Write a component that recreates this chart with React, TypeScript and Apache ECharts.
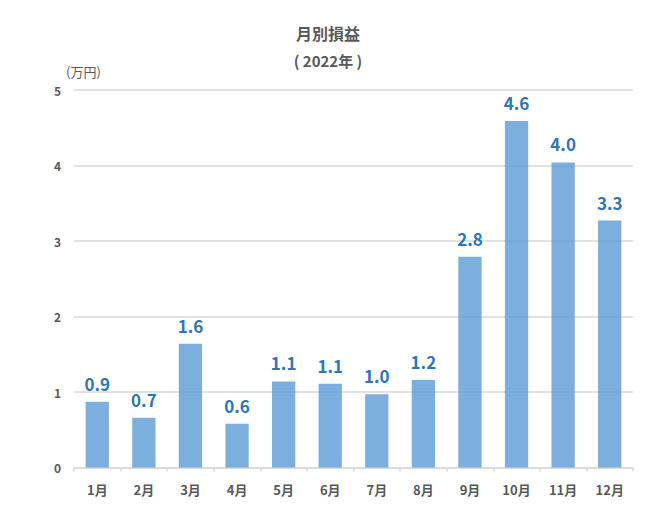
import React, { useEffect, useRef } from "react";
import * as echarts from "echarts";

const categories = ["1月", "2月", "3月", "4月", "5月", "6月", "7月", "8月", "9月", "10月", "11月", "12月"];
const profit = [0.87, 0.66, 1.64, 0.58, 1.14, 1.11, 0.97, 1.16, 2.79, 4.59, 4.04, 3.27];
const yTicks = [0, 1, 2, 3, 4, 5];
const titleText = "月別損益";
const subtitleText = "( 2022年 )";
const unitText = "(万円)";

const FONT = "'Noto Sans CJK JP', 'Noto Sans', sans-serif";

export default function App() {
  const ref = useRef<HTMLDivElement>(null);
  useEffect(() => {
    if (!ref.current) return;
    const chart = echarts.init(ref.current, undefined, { renderer: "svg" });
    chart.setOption({
      animation: false,
      backgroundColor: "#ffffff",
      textStyle: { fontFamily: FONT },
      title: [
        {
          text: titleText,
          left: "center",
          top: 20,
          textStyle: { fontSize: 16, fontWeight: "bold", color: "#595959", fontFamily: FONT },
        },
        {
          text: subtitleText,
          left: "center",
          top: 48,
          textStyle: { fontSize: 15, fontWeight: "bold", color: "#595959", fontFamily: FONT },
        },
      ],
      graphic: [
        {
          type: "text",
          left: 66,
          top: 65,
          style: { text: unitText, fontSize: 13, fill: "#595959", fontFamily: FONT },
        },
      ],
      grid: { left: 74, right: 23, top: 90, bottom: 58.5, containLabel: false },
      xAxis: {
        type: "category",
        data: categories,
        axisLine: { lineStyle: { color: "#D9D9D9", width: 1.5 } },
        axisTick: { show: true, length: 4, lineStyle: { color: "#D9D9D9", width: 1.5 } },
        axisLabel: { color: "#595959", fontSize: 13, fontWeight: "bold", margin: 15, fontFamily: FONT },
      },
      yAxis: {
        type: "value",
        min: yTicks[0],
        max: yTicks[yTicks.length - 1],
        interval: 1,
        axisLine: { show: false },
        axisTick: { show: false },
        axisLabel: { color: "#595959", fontSize: 12, fontWeight: "bold", margin: 13, fontFamily: FONT },
        splitLine: { lineStyle: { color: "#D9D9D9", width: 1.5 } },
      },
      series: [
        {
          type: "bar",
          data: profit,
          barWidth: "50%",
          itemStyle: { color: "rgba(91,155,213,0.8)" },
          label: {
            show: true,
            position: "top",
            distance: 10,
            color: "#2E75B6",
            fontSize: 17,
            fontWeight: "bold",
            fontFamily: FONT,
            formatter: (p: any) => Number(p.value).toFixed(1),
          },
        },
      ],
    });
    return () => chart.dispose();
  }, []);
  return (
    <div
      ref={ref}
      style={{ position: "absolute", left: 0, top: 0, width: 656, height: 526 }}
    />
  );
}
